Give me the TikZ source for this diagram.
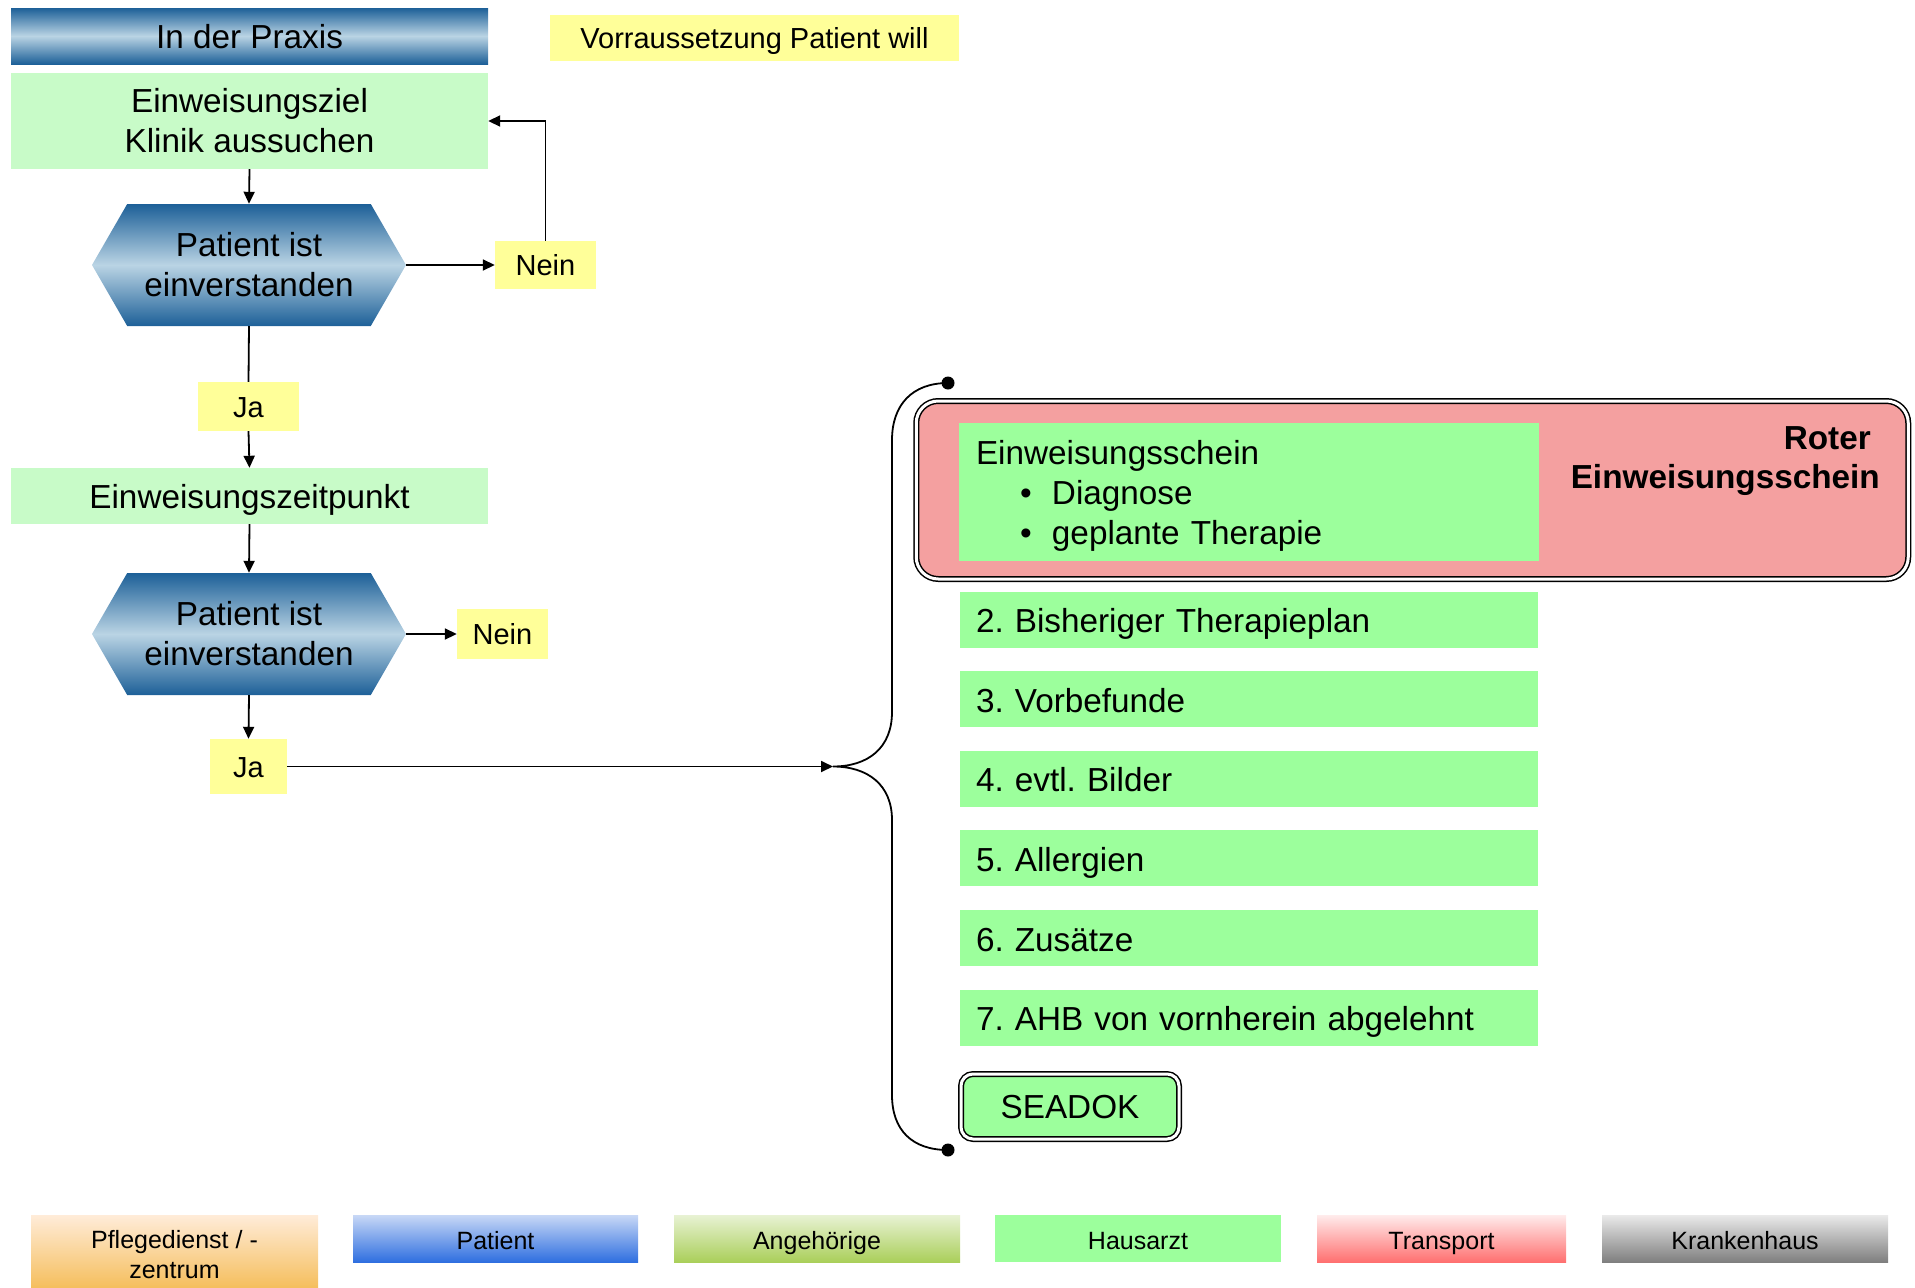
\documentclass[tikz,border=0pt]{standalone}
\usepackage{fontspec}
\setmainfont{Liberation Sans}
\usetikzlibrary{shapes.symbols,arrows.meta}
\frenchspacing

\definecolor{praxisblue}{HTML}{1D6098}
\definecolor{praxislight}{HTML}{BAD4E4}
\definecolor{zielgreen}{HTML}{C8FBC8}
\definecolor{itemgreen}{HTML}{9CFF9C}
\definecolor{antwortgelb}{HTML}{FFFF99}
\definecolor{roterfill}{HTML}{F4A0A0}

\begin{document}
\begin{tikzpicture}[x=1pt,y=-1pt,
    every node/.style={inner sep=0pt},
    bigtxt/.style={font=\fontsize{33.3}{40}\selectfont, align=center},
    onetxt/.style={bigtxt, text height=24pt, text depth=0pt},
    bluebar/.style={top color=praxisblue, bottom color=praxisblue, middle color=praxislight},
    hexa/.style={bluebar, bigtxt, signal, signal to=west and east, signal pointer angle=120, minimum width=314pt, minimum height=122pt},
    antwort/.style={font=\fontsize{29}{34}\selectfont, text height=21pt, text depth=0pt, fill=antwortgelb},
    itembox/.style={font=\fontsize{33.3}{40}\selectfont, fill=itemgreen, minimum width=578pt, minimum height=56pt, text width=546pt, align=left, text height=26pt, text depth=0pt},
    legbox/.style={font=\fontsize{25}{30}\selectfont, align=center, minimum width=286pt, minimum height=47pt},
    legone/.style={legbox, text height=22pt, text depth=0pt},
    arr/.style={-{Triangle[length=12pt,width=11pt]}, line width=1.8pt},
    dbl/.style={draw=black, line width=1.5pt, double=white, double distance=3pt}]
        %uncomment if require: \path (0,0); %picture is 1915 wide and 1288 high
        \useasboundingbox (0,0) rectangle (1915,1288);

        %Shape: Rectangle [head]
        \node [onetxt, bluebar, minimum width=477pt, minimum height=56pt] (praxis) at (249.5,36) {In der Praxis};
        % Text Node
        \node [antwort, minimum width=409pt, minimum height=46pt] (voraus) at (754.5,38) {Vorraussetzung Patient will};

        %Shape: Rectangle [ziel]
        \node [bigtxt, fill=zielgreen, minimum width=477pt, minimum height=96pt] (ziel) at (249.5,121) {Einweisungsziel\\Klinik aussuchen};
        %Shape: Hexagon
        \node [hexa] (hexeins) at (249,265) {Patient ist\\einverstanden};
        % Text Node
        \node [antwort, minimum width=101pt, minimum height=48pt] (neineins) at (545.5,265) {Nein};
        % Text Node
        \node [antwort, minimum width=101pt, minimum height=49pt] (jaeins) at (248.5,406.5) {Ja};

        %Shape: Rectangle [zeit]
        \node [onetxt, fill=zielgreen, minimum width=477pt, minimum height=56pt] (zeit) at (249.5,496) {Einweisungszeitpunkt};
        %Shape: Hexagon
        \node [hexa] (hexzwei) at (249,634) {Patient ist\\einverstanden};
        % Text Node
        \node [antwort, minimum width=91pt, minimum height=50pt] (neinzwei) at (502.5,634) {Nein};
        % Text Node
        \node [antwort, minimum width=77pt, minimum height=55pt] (jazwei) at (248.5,766.5) {Ja};

        %Straight Lines
        \draw [arr] (ziel.south) -- (hexeins.north);
        \draw [arr] (hexeins.east) -- (neineins.west);
        \draw [arr] (neineins.north) |- (ziel.east);
        \draw [line width=1.8pt] (hexeins.south) -- (jaeins.north);
        \draw [arr] (jaeins.south) -- (zeit.north);
        \draw [arr] (zeit.south) -- (hexzwei.north);
        \draw [arr] (hexzwei.east) -- (neinzwei.west);
        \draw [arr] (hexzwei.south) -- (jazwei.north);

        %Shape: Rounded Rectangle [roter schein]
        \node [dbl, fill=roterfill, rounded corners=22pt, minimum width=992pt, minimum height=178pt] (roter) at (1909,490) [anchor=east] {};
        %Shape: Rectangle [schein]
        \node [font=\fontsize{33.3}{40}\selectfont, fill=itemgreen, minimum width=580pt, minimum height=138pt, text width=546pt, align=left] (schein) at (1249,492) {\rule{0pt}{32pt}Einweisungsschein\\\hspace*{44pt}\makebox[32pt][l]{\textbullet}Diagnose\\\hspace*{44pt}\makebox[32pt][l]{\textbullet}geplante Therapie};
        % Text Node
        \node [font=\fontsize{33.3}{39}\selectfont\bfseries, align=right, anchor=north east] (roterlabel) at (1880,426) {Roter\hspace*{9pt}\\Einweisungsschein};

        %Shape: Rectangle [items]
        \foreach \n/\txt [count=\i] in {2/Bisheriger Therapieplan, 3/Vorbefunde, 4/evtl. Bilder, 5/Allergien, 6/Zusätze, 7/AHB von vornherein abgelehnt}
            \node [itembox] (item\n) at (1249,540+79.6*\i) {\n. \txt};

        %Shape: Rounded Rectangle [seadok]
        \node [onetxt, dbl, fill=itemgreen, rounded corners=12pt, minimum width=218pt, minimum height=65pt] (seadok) at (1070,1106.5) {SEADOK};

        %Shape: Brace
        \coordinate (bracetop) at (948,383);
        \coordinate (bracetip) at (833,766.5);
        \coordinate (bracebot) at (948,1150);
        \draw [line width=1.8pt] (bracetop) .. controls (912,383) and (892,405) .. (892,440) -- (892,712) .. controls (892,748) and (868,766.5) .. (bracetip) .. controls (868,766.5) and (892,785) .. (892,820) -- (892,1095) .. controls (892,1130) and (912,1150) .. (bracebot);
        \fill (bracetop) circle [radius=6.5pt];
        \fill (bracebot) circle [radius=6.5pt];
        \draw [arr] (jazwei.east) -- (bracetip);

        %Legend
        \node [legbox, top color=orange!15, bottom color={rgb,255:red,245;green,190;blue,92}, minimum width=287pt, minimum height=73pt] (legpflege) at (174.5,1251.5) {\rule{0pt}{24pt}Pflegedienst / -\\zentrum};
        \node [legone, top color={rgb,255:red,200;green,216;blue,246}, bottom color={rgb,255:red,47;green,111;blue,224}, minimum width=285pt] (legpatient) at (495.5,1238.5) {Patient};
        \node [legone, top color={rgb,255:red,232;green,242;blue,212}, bottom color={rgb,255:red,170;green,207;blue,90}] (legangeh) at (817,1238.5) {Angehörige};
        \node [legone, fill=itemgreen] (leghaus) at (1138,1238.5) {Hausarzt};
        \node [legone, top color={rgb,255:red,255;green,236;blue,236}, bottom color={rgb,255:red,255;green,112;blue,112}, minimum width=249pt] (legtrans) at (1441.5,1238.5) {Transport};
        \node [legone, top color={rgb,255:red,234;green,234;blue,234}, bottom color={rgb,255:red,127;green,127;blue,127}] (legkrank) at (1745,1238.5) {Krankenhaus};

\end{tikzpicture}
\end{document}
